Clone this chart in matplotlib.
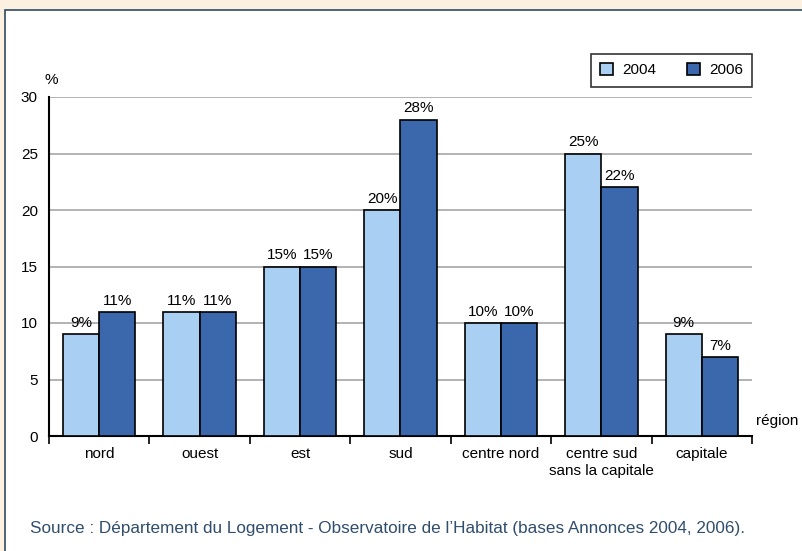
import matplotlib.pyplot as plt
import matplotlib.patches as mpatches
import numpy as np

plt.rcParams['font.family'] = ['Liberation Sans', 'DejaVu Sans']

regions = ['nord', 'ouest', 'est', 'sud', 'centre nord',
           'centre sud\nsans la capitale', 'capitale']
years = ['2004', '2006']
share_2004 = [9, 11, 15, 20, 10, 25, 9]
share_2006 = [11, 11, 15, 28, 10, 22, 7]
colors = ['#a9d0f3', '#3b67ac']

fig = plt.figure(figsize=(8.03, 5.51), dpi=100, facecolor='#fcf1e1')

# white framed panel behind the chart
panel = mpatches.Rectangle((5 / 803, -0.05), 1.0, 1 - 10 / 551 + 0.05,
                           transform=fig.transFigure, facecolor='white',
                           edgecolor='#2f4a63', linewidth=1.2, zorder=-10)
fig.patches.append(panel)

ax = fig.add_axes([49 / 803, 1 - 436 / 551, 703 / 803, 339 / 551])
ax.set_facecolor('none')
ax.set_zorder(5)

x = np.arange(len(regions))
w = 0.36
for vals, off, col, yr in [(share_2004, -w / 2, colors[0], years[0]),
                           (share_2006, w / 2, colors[1], years[1])]:
    bars = ax.bar(x + off, vals, w, color=col, edgecolor='black',
                  linewidth=1.2, label=yr, zorder=3)
    for b, v in zip(bars, vals):
        ax.annotate(f'{v}%', (b.get_x() + b.get_width() / 2, v),
                    xytext=(0, 3), textcoords='offset points',
                    ha='center', va='bottom', fontsize=11)

ax.set_xlim(-0.5, len(regions) - 0.5)
ax.set_ylim(0, 30)
ax.set_yticks(range(0, 31, 5))
ax.yaxis.grid(True, color='#a6a6a6', linewidth=1.2, zorder=0)
ax.set_axisbelow(True)

ax.set_xticks(x)
ax.set_xticklabels(regions, fontsize=11, linespacing=1.25)
ax.set_xticks(np.arange(-0.5, len(regions)), minor=True)
ax.tick_params(axis='x', which='major', length=0, pad=8)
ax.tick_params(axis='x', which='minor', length=5.5, width=1.2, direction='out')
ax.tick_params(axis='y', length=0, labelsize=11, pad=8)

for s in ['top', 'right']:
    ax.spines[s].set_visible(False)
for s in ['left', 'bottom']:
    ax.spines[s].set_linewidth(1.5)

ax.text(-0.006, 1.03, '%', transform=ax.transAxes, fontsize=11,
        ha='left', va='bottom')
ax.text(1.005, 0.025, 'région', transform=ax.transAxes, fontsize=11,
        ha='left', va='bottom')

leg = ax.legend(loc='upper right', bbox_to_anchor=(1.0, 1.127), ncol=2,
                fontsize=11, frameon=True, fancybox=False, edgecolor='black',
                handlelength=0.85, handleheight=0.85, handletextpad=0.6,
                columnspacing=2.0, borderpad=0.6, borderaxespad=0)
leg.get_frame().set_linewidth(1.2)

fig.text(30 / 803, 1 - 528 / 551,
         "Source : Département du Logement - Observatoire de l’Habitat "
         "(bases Annonces 2004, 2006).",
         fontsize=12.3, color='#2f4d6c', va='center')

fig.savefig('out.png', dpi=100, facecolor=fig.get_facecolor())
